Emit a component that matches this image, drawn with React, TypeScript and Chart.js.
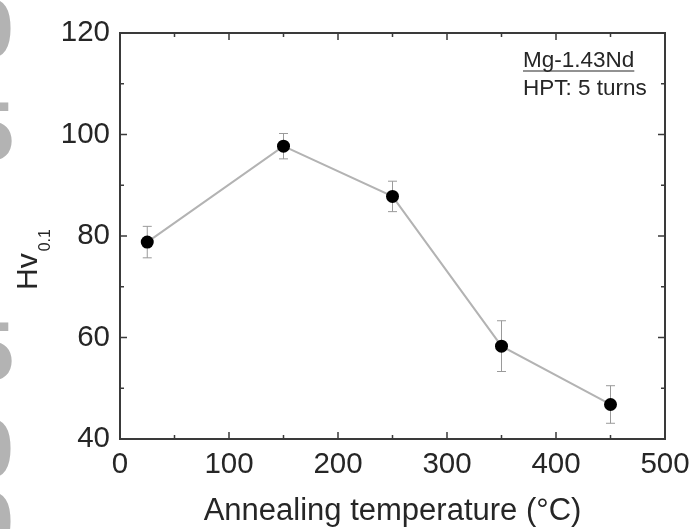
import React, { useEffect, useRef } from "react";
import { Chart, registerables } from "chart.js";

Chart.register(...registerables);

// ---- data ----
const temperatures = [25, 150, 250, 350, 450];
const hardness = [78.8, 97.7, 87.8, 58.3, 46.8];
const hardnessError = [3.1, 2.5, 3.0, 5.0, 3.7];
const xTickValues = [0, 100, 200, 300, 400, 500];
const yTickValues = [40, 60, 80, 100, 120];
const xTitle = "Annealing temperature (°C)";
const yTitleMain = "Hv";
const yTitleSub = "0.1";
const noteTitle = "Mg-1.43Nd";
const noteLine = "HPT: 5 turns";
const watermarkGlyphs = ["0", "5", "5", "0", "0"];

const FONT = '"Liberation Sans", Arial, Helvetica, sans-serif';
const TEXT = "#262626";

const watermarkPlugin = {
  id: "watermark",
  beforeDraw(chart: any) {
    const ctx = chart.ctx;
    ctx.save();
    ctx.fillStyle = "#b3b3b3";
    ctx.font = `bold 84px ${FONT}`;
    ctx.textAlign = "right";
    ctx.textBaseline = "alphabetic";
    const baselines = [57, 160, 380, 477, 550];
    watermarkGlyphs.forEach((g, i) => ctx.fillText(g, 14, baselines[i]));
    ctx.restore();
  },
};

const errorBarPlugin = {
  id: "errorBars",
  beforeDatasetsDraw(chart: any) {
    const { ctx, scales } = chart;
    const xs = scales.x;
    const ys = scales.y;
    ctx.save();
    ctx.strokeStyle = "#9a9a9a";
    ctx.lineWidth = 1;
    temperatures.forEach((t, i) => {
      const x = xs.getPixelForValue(t);
      const yTop = ys.getPixelForValue(hardness[i] + hardnessError[i]);
      const yBot = ys.getPixelForValue(hardness[i] - hardnessError[i]);
      ctx.beginPath();
      ctx.moveTo(x, yTop);
      ctx.lineTo(x, yBot);
      ctx.moveTo(x - 4.5, yTop);
      ctx.lineTo(x + 4.5, yTop);
      ctx.moveTo(x - 4.5, yBot);
      ctx.lineTo(x + 4.5, yBot);
      ctx.stroke();
    });
    ctx.restore();
  },
};

const framePlugin = {
  id: "frame",
  afterDraw(chart: any) {
    const { ctx, chartArea, scales } = chart;
    const { left, right, top, bottom } = chartArea;
    const xs = scales.x;
    const ys = scales.y;
    ctx.save();
    ctx.strokeStyle = "#3a3a3a";
    ctx.lineWidth = 2;
    ctx.strokeRect(left, top, right - left, bottom - top);
    ctx.lineWidth = 1.5;
    ctx.beginPath();
    const xMajor = xTickValues[1] - xTickValues[0];
    for (let v = xs.min; v <= xs.max; v += xMajor / 2) {
      const len = v % xMajor === 0 ? 7 : 4;
      const x = xs.getPixelForValue(v);
      ctx.moveTo(x, bottom);
      ctx.lineTo(x, bottom - len);
      ctx.moveTo(x, top);
      ctx.lineTo(x, top + len);
    }
    const yMajor = yTickValues[1] - yTickValues[0];
    for (let v = ys.min; v <= ys.max; v += yMajor / 2) {
      const len = (v - ys.min) % yMajor === 0 ? 7 : 4;
      const y = ys.getPixelForValue(v);
      ctx.moveTo(left, y);
      ctx.lineTo(left + len, y);
      ctx.moveTo(right, y);
      ctx.lineTo(right - len, y);
    }
    ctx.stroke();

    // axis titles
    ctx.fillStyle = TEXT;
    ctx.font = `31px ${FONT}`;
    ctx.textAlign = "center";
    ctx.textBaseline = "alphabetic";
    ctx.fillText(xTitle, (left + right) / 2, 520);

    ctx.save();
    ctx.translate(37, 290);
    ctx.rotate(-Math.PI / 2);
    ctx.textAlign = "left";
    ctx.font = `30px ${FONT}`;
    ctx.fillText(yTitleMain, 0, 0);
    const w = ctx.measureText(yTitleMain).width;
    ctx.font = `16px ${FONT}`;
    ctx.fillText(yTitleSub, w + 2, 13);
    ctx.restore();

    // note
    ctx.font = `22.5px ${FONT}`;
    ctx.textAlign = "left";
    const nx = 523;
    ctx.fillText(noteTitle, nx, 67);
    const nw = ctx.measureText(noteTitle).width;
    ctx.lineWidth = 1.2;
    ctx.strokeStyle = TEXT;
    ctx.beginPath();
    ctx.moveTo(nx, 71);
    ctx.lineTo(nx + nw, 71);
    ctx.stroke();
    ctx.fillText(noteLine, nx, 95);
    ctx.restore();
  },
};

export default function App() {
  const canvasRef = useRef<HTMLCanvasElement | null>(null);

  useEffect(() => {
    document.body.style.margin = "0";
    const canvas = canvasRef.current;
    if (!canvas) return;
    const chart = new Chart(canvas, {
      type: "line",
      data: {
        datasets: [
          {
            data: temperatures.map((t, i) => ({ x: t, y: hardness[i] })),
            borderColor: "#b3b3b3",
            borderWidth: 2,
            pointBackgroundColor: "#000",
            pointBorderColor: "#000",
            pointRadius: 6.5,
            pointBorderWidth: 0,
            tension: 0,
            clip: false as any,
          },
        ],
      },
      options: {
        animation: false,
        responsive: true,
        maintainAspectRatio: false,
        devicePixelRatio: 1,
        layout: { padding: { top: 33, right: 27, left: 0, bottom: 0 } },
        plugins: { legend: { display: false }, tooltip: { enabled: false }, title: { display: false } },
        scales: {
          x: {
            type: "linear",
            min: 0,
            max: 500,
            afterFit: (s: any) => {
              s.height = 90;
              s.paddingLeft = 0;
              s.paddingRight = 0;
            },
            afterBuildTicks: (s: any) => {
              s.ticks = xTickValues.map((v) => ({ value: v }));
            },
            grid: { display: false, drawTicks: false, tickLength: 0 },
            border: { display: false },
            ticks: {
              font: { family: FONT, size: 29.5 },
              color: TEXT,
              padding: 8,
              maxRotation: 0,
            },
          },
          y: {
            type: "linear",
            min: 40,
            max: 120,
            afterFit: (s: any) => {
              s.width = 120;
              s.paddingTop = 0;
              s.paddingBottom = 0;
            },
            afterBuildTicks: (s: any) => {
              s.ticks = yTickValues.map((v) => ({ value: v }));
            },
            grid: { display: false, drawTicks: false, tickLength: 0 },
            border: { display: false },
            ticks: {
              font: { family: FONT, size: 29.5 },
              color: TEXT,
              padding: 10,
            },
          },
        },
      },
      plugins: [watermarkPlugin, errorBarPlugin, framePlugin],
    });
    return () => chart.destroy();
  }, []);

  return (
    <div style={{ width: 692, height: 529, position: "relative", background: "#fff" }}>
      <canvas ref={canvasRef} />
    </div>
  );
}
